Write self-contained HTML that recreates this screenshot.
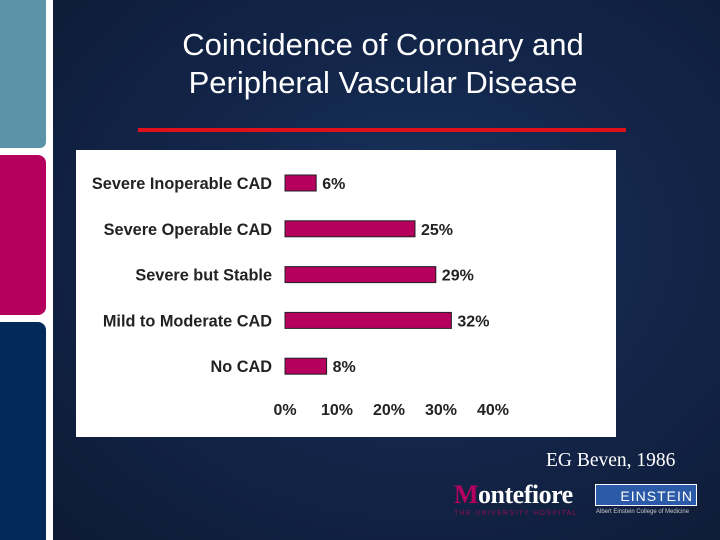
<!DOCTYPE html>
<html><head><meta charset="utf-8"><style>
body{margin:0;width:720px;height:540px;overflow:hidden;background:#0f1e3c;font-family:"Liberation Sans",sans-serif;position:relative}
.abs{position:absolute}
</style></head><body>
<div class="abs" style="left:53px;top:0;width:667px;height:540px;background:radial-gradient(ellipse at 55% 45%,#1a3560 0%,#13264a 45%,#0e1a36 100%)"></div>
<div class="abs" style="left:0;top:0;width:53px;height:540px;background:#fff"></div>
<div class="abs" style="left:0;top:0;width:46px;height:148px;background:#5b94a9;border-bottom-right-radius:6px"></div>
<div class="abs" style="left:0;top:155px;width:46px;height:160px;background:#b5005e;border-radius:0 8px 8px 0"></div>
<div class="abs" style="left:0;top:322px;width:46px;height:218px;background:#03295a;border-top-right-radius:8px"></div>
<div class="abs" style="left:76px;top:26px;width:614px;text-align:center;color:#fff;font-size:31px;line-height:38px">Coincidence of Coronary and<br>Peripheral Vascular Disease</div>
<div class="abs" style="left:138px;top:128px;width:488px;height:4px;background:#e0101a"></div>
<svg class="abs" style="left:76px;top:150px" width="540" height="287">
<rect width="540" height="287" fill="#fff"/>
<g id="g"></g>
</svg>
<div class="abs" style="left:546px;top:450px;color:#fff;font-family:'Liberation Serif',serif;font-size:19.5px">EG Beven, 1986</div>
<div class="abs" style="left:454px;top:481px;color:#fff;font-family:'Liberation Serif',serif;font-size:26px;line-height:28px;font-weight:bold;letter-spacing:-0.5px"><span style="color:#b5005e">M</span>ontefiore</div>
<div class="abs" style="left:454px;top:510px;color:#8a1050;font-size:7px;letter-spacing:1.3px">THE UNIVERSITY HOSPITAL</div>
<div class="abs" style="left:595px;top:484px;width:102px;height:22px;background:#2b5ba8;border:1px solid #fff;color:#fff;font-size:14px;line-height:22px;letter-spacing:1px;text-align:right;padding-right:3px;box-sizing:border-box">EINSTEIN</div>
<div class="abs" style="left:596px;top:509px;color:#ccc;font-size:6px">Albert Einstein College of Medicine</div>
<script>
const categories=["Severe Inoperable CAD","Severe Operable CAD","Severe but Stable","Mild to Moderate CAD","No CAD"];
const values=[6,25,29,32,8];
const ticks=[0,10,20,30,40];
const ns="http://www.w3.org/2000/svg";
const g=document.getElementById('g');
const x=v=>209+v*5.2;
const y=i=>33+i*45.8;
function mk(t,a){const e=document.createElementNS(ns,t);for(const k in a)e.setAttribute(k,a[k]);g.appendChild(e);return e;}
categories.forEach((c,i)=>{
 const r=mk('rect',{x:x(0),y:y(i)-8,width:x(values[i])-x(0),height:16,fill:'#b5005e',stroke:'#222','stroke-width':1});
 
 
 const l=mk('text',{x:196,y:y(i)+6,'text-anchor':'end','font-size':16.3,'font-weight':'bold',fill:'#222','font-family':'Liberation Sans',textLength:0});
 l.removeAttribute('textLength');
 l.textContent=c;
 
 
 const v=mk('text',{x:x(values[i])+6,y:y(i)+6,'font-size':16,'font-weight':'bold',fill:'#222','font-family':'Liberation Sans'});
 v.textContent=values[i]+'%';
 
 
});
ticks.forEach(t=>{
 const e=mk('text',{x:x(t),y:265,'text-anchor':'middle','font-size':16,'font-weight':'bold',fill:'#222','font-family':'Liberation Sans'});
 e.textContent=t+'%';
 
 
});
</script>
</body></html>
